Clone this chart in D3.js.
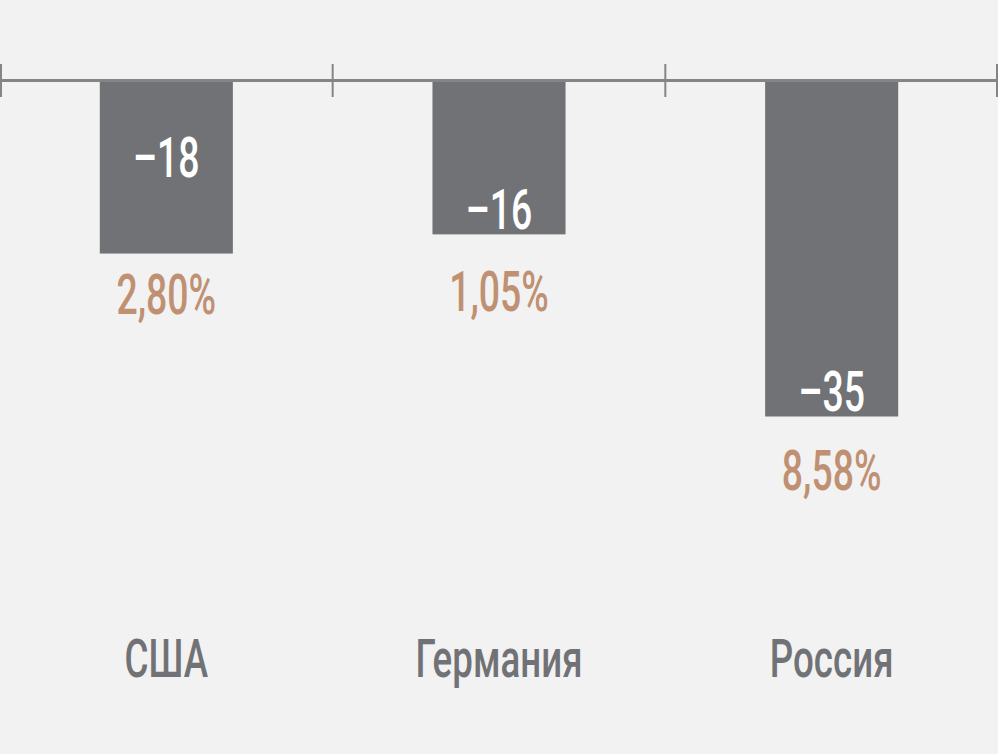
<!DOCTYPE html>
<html>
<head>
<meta charset="utf-8">
<script src="https://cdn.jsdelivr.net/npm/d3@7"></script>
<style>
    html, body { margin: 0; padding: 0; background: #f2f2f2; }
    svg { display: block; }
    text { font-family: Roboto, "DejaVu Sans Condensed", sans-serif; font-weight: 500; }
</style>
</head>
<body>
<svg id="chart"></svg>
<script>
const countries = ['США', 'Германия', 'Россия'];
const values = [-18, -16, -35];
const valueLabels = ['-18', '-16', '-35'];
const shareLabels = ['2,80%', '1,05%', '8,58%'];

// hand tweaks so the labels sit where the original has them
const valueLift = [77, 5, 6];
const shareDrop = [60, 77, 73];

const width = 998;
const height = 754;
const axisY = 81;
const squeeze = 0.68;

const svg = d3.select('#chart')
    .attr('width', width)
    .attr('height', height);

const xScale = d3.scaleBand()
    .domain(countries)
    .range([0, width]);
const yScale = d3.scaleLinear()
    .domain([0, -35])
    .range([axisY, 416.5]);

const barWidth = xScale.bandwidth() * 0.4;

svg.selectAll('.bar')
    .data(values)
    .enter()
    .append('rect')
    .attr('class', 'bar')
    .style('fill', '#717276')
    .attr('x', (d, i) => xScale(countries[i]) + (xScale.bandwidth() - barWidth) / 2)
    .attr('width', barWidth)
    .attr('y', yScale(0))
    .attr('height', d => yScale(d) - yScale(0));

// axis along the top with ticks on band edges
const edges = countries.map(c => xScale(c)).concat([width]);
svg.append('line')
    .attr('x1', 0)
    .attr('x2', width)
    .attr('y1', axisY - 0.5)
    .attr('y2', axisY - 0.5)
    .style('stroke', '#858585')
    .style('stroke-width', 3);
svg.selectAll('.tick')
    .data(edges)
    .enter()
    .append('line')
    .attr('class', 'tick')
    .attr('x1', d => Math.min(Math.max(d, 1), width - 1))
    .attr('x2', d => Math.min(Math.max(d, 1), width - 1))
    .attr('y1', 64)
    .attr('y2', 97)
    .style('stroke', '#858585')
    .style('stroke-width', 2);

const center = i => xScale(countries[i]) + xScale.bandwidth() / 2;

function label(cls, data, yFn, color, size) {
    svg.selectAll('.' + cls)
        .data(data)
        .enter()
        .append('text')
        .attr('class', cls)
        .attr('transform', (d, i) => `translate(${center(i)}, ${yFn(i)}) scale(${squeeze}, 1)`)
        .attr('text-anchor', 'middle')
        .style('fill', color)
        .style('font-size', size + 'px')
        .text(d => d);
}

label('val', valueLabels.map(d => d.replace('-', '\u2013')),
    i => yScale(values[i]) - valueLift[i], '#ffffff', 55);
label('share', shareLabels, i => yScale(values[i]) + shareDrop[i], '#c09073', 55);
label('cat', countries, i => 677, '#717276', 54);
</script>
</body>
</html>
